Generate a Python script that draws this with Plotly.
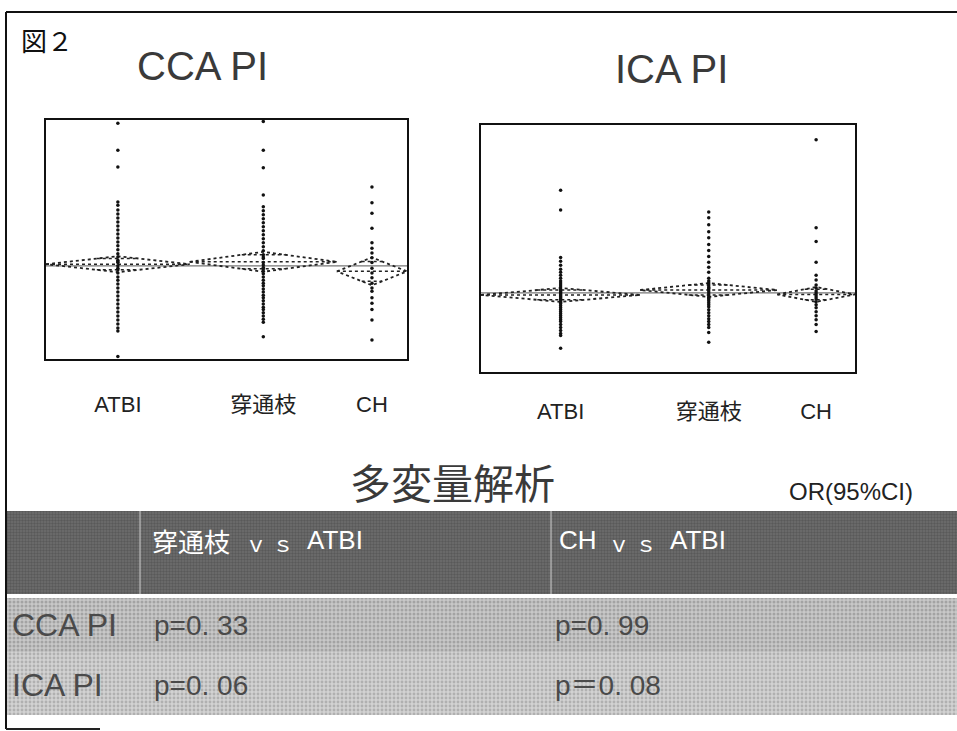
import math
import plotly.graph_objects as go

W, H = 957, 731

# ---------------- data ----------------
groups = ["ATBI", "穿通枝", "CH"]

# CCA pulsatility index per patient
cca_atbi = [3.46, 3.12, 2.91, 2.47, 2.43, 2.37, 2.32, 2.27, 2.22, 2.17, 2.12, 2.07, 2.02, 1.97,
            1.92, 1.87, 1.82, 1.78, 1.74, 1.72, 1.71, 1.67, 1.64, 1.62, 1.58, 1.53, 1.49, 1.44,
            1.39, 1.34, 1.29, 1.24, 1.19, 1.14, 1.09, 1.04, 0.99, 0.94, 0.89, 0.85, 0.53]
cca_perf = [3.48, 3.12, 2.90, 2.56, 2.41, 2.36, 2.31, 2.26, 2.21, 2.16, 2.11, 2.06, 2.01, 1.96,
            1.91, 1.86, 1.81, 1.78, 1.76, 1.71, 1.68, 1.65, 1.63, 1.60, 1.57, 1.53, 1.49, 1.45,
            1.42, 1.38, 1.34, 1.30, 1.27, 1.23, 1.19, 1.15, 1.12, 1.08, 1.04, 1.00, 0.96, 0.78]
cca_ch = [2.66, 2.46, 2.33, 2.14, 1.96, 1.89, 1.83, 1.77, 1.71, 1.64, 1.58, 1.52, 1.45, 1.39,
          1.35, 1.27, 1.20, 1.12, 0.99, 0.74]
cca_means = [1.69, 1.72, 1.60]
cca_ci = [0.10, 0.125, 0.175]
cca_grand = 1.67

# ICA pulsatility index per patient
ica_atbi = [2.14, 1.94, 1.46, 1.42, 1.38, 1.34, 1.31, 1.28, 1.25, 1.22, 1.20, 1.18, 1.16, 1.14,
            1.13, 1.12, 1.11, 1.10, 1.09, 1.08, 1.07, 1.06, 1.05, 1.04, 1.03, 1.01, 1.00, 0.99,
            0.97, 0.95, 0.93, 0.91, 0.89, 0.87, 0.85, 0.83, 0.81, 0.78, 0.75, 0.72, 0.69, 0.67, 0.54]
ica_perf = [1.92, 1.86, 1.79, 1.72, 1.66, 1.59, 1.53, 1.47, 1.41, 1.36, 1.31, 1.25, 1.22, 1.20,
            1.18, 1.16, 1.15, 1.14, 1.12, 1.10, 1.08, 1.06, 1.05, 1.04, 1.02, 1.00, 0.98, 0.96,
            0.93, 0.90, 0.87, 0.84, 0.81, 0.78, 0.75, 0.70, 0.60]
ica_ch = [2.65, 1.76, 1.62, 1.41, 1.28, 1.23, 1.18, 1.15, 1.12, 1.10, 1.08, 1.06, 1.04, 1.01,
          0.98, 0.95, 0.91, 0.87, 0.83, 0.78, 0.71]
ica_means = [1.08, 1.13, 1.085]
ica_ci = [0.07, 0.07, 0.075]
ica_grand = 1.10

# multivariate table
col_headers = [("穿通枝", "ｖ ｓ", "ATBI"), ("CH", "ｖ ｓ", "ATBI")]
row_labels = ["CCA PI", "ICA PI"]
p_values = [["p=0. 33", "p=0. 99"], ["p=0. 06", "p＝0. 08"]]

# ---------------- helpers ----------------
def px_x(v):
    return v / W


def px_y(v):
    return 1 - v / H


SANS = "Liberation Sans, Arial, Noto Sans CJK JP, sans-serif"
CJK = "Noto Sans CJK JP, sans-serif"

fig = go.Figure()


def oneway(fig, series, means, ci, grand, xa, ya):
    """JMP-style one-way plot: points per group, means diamonds, grand mean."""
    counts = [len(s) for s in series]
    total = sum(counts)
    starts = [sum(counts[:i]) for i in range(len(counts))]
    centers = [s + n / 2 for s, n in zip(starts, counts)]

    # grand mean line
    fig.add_trace(go.Scatter(x=[0, total], y=[grand, grand], mode="lines",
                             line=dict(color="#777", width=1.2),
                             xaxis=xa, yaxis=ya, hoverinfo="skip"))
    for s, n, c, m, h in zip(starts, counts, centers, means, ci):
        e = s + n
        # diamond
        fig.add_trace(go.Scatter(x=[s, c, e, c, s], y=[m, m + h, m, m - h, m], mode="lines",
                                 line=dict(color="#222", width=1.8, dash="dot"),
                                 xaxis=xa, yaxis=ya, hoverinfo="skip"))
        # mean line
        fig.add_trace(go.Scatter(x=[s, e], y=[m, m], mode="lines",
                                 line=dict(color="#222", width=1.5, dash="dot"),
                                 xaxis=xa, yaxis=ya, hoverinfo="skip"))
        # overlap marks
        d = h / math.sqrt(2)
        half = (1 - d / h) * n / 2
        for yy in (m + d, m - d):
            fig.add_trace(go.Scatter(x=[c - half, c + half], y=[yy, yy], mode="lines",
                                     line=dict(color="#222", width=1.5, dash="dot"),
                                     xaxis=xa, yaxis=ya, hoverinfo="skip"))
    for c, vals in zip(centers, series):
        fig.add_trace(go.Scatter(x=[c] * len(vals), y=vals, mode="markers",
                                 marker=dict(color="#111", size=3.5),
                                 xaxis=xa, yaxis=ya, hoverinfo="skip"))
    return total, centers


tot1, cen1 = oneway(fig, [cca_atbi, cca_perf, cca_ch], cca_means, cca_ci, cca_grand, "x", "y")
tot2, cen2 = oneway(fig, [ica_atbi, ica_perf, ica_ch], ica_means, ica_ci, ica_grand, "x2", "y2")

# ---------------- table backgrounds (page pixel axes) ----------------
def cell(x0, y0, x1, y1, bg, fg, size, solidity):
    fig.add_trace(go.Scatter(x=[x0, x1, x1, x0, x0], y=[y0, y0, y1, y1, y0],
                             mode="lines", line=dict(width=0), fill="toself",
                             fillcolor=bg,
                             fillpattern=dict(shape=".", bgcolor=bg, fgcolor=fg,
                                              size=size, solidity=solidity),
                             xaxis="x3", yaxis="y3", hoverinfo="skip"))


cell(5, 511, W, 594, "#6e6e6e", "#444444", 3, 0.5)
cell(5, 598, W, 652, "#c8c8c8", "#7d7d7d", 4, 0.45)
cell(5, 652, W, 715, "#d2d2d2", "#8e8e8e", 4, 0.4)

axis_common = dict(showline=True, mirror=True, linecolor="#111", linewidth=1.5,
                   showgrid=False, zeroline=False, ticks="")

fig.update_layout(
    width=W, height=H, margin=dict(l=0, r=0, t=0, b=0),
    paper_bgcolor="white", plot_bgcolor="rgba(0,0,0,0)", showlegend=False,
    xaxis=dict(domain=[px_x(46), px_x(407)], range=[0, tot1], anchor="y",
               tickvals=cen1, ticktext=groups,
               tickfont=dict(family=SANS, size=22, color="#222"), ticklabelstandoff=25,
               **axis_common),
    yaxis=dict(domain=[px_y(359), px_y(120)], range=[0.5, 3.5], anchor="x",
               showticklabels=False, **axis_common),
    xaxis2=dict(domain=[px_x(481), px_x(855)], range=[0, tot2], anchor="y2",
                tickvals=cen2, ticktext=groups,
                tickfont=dict(family=SANS, size=22, color="#222"), ticklabelstandoff=19,
                **axis_common),
    yaxis2=dict(domain=[px_y(372), px_y(125)], range=[0.3, 2.8], anchor="x2",
                showticklabels=False, **axis_common),
    xaxis3=dict(domain=[0, 1], range=[0, W], anchor="y3", visible=False, fixedrange=True),
    yaxis3=dict(domain=[0, 1], range=[H, 0], anchor="x3", visible=False, fixedrange=True),
)

shapes = []
# page frame
shapes.append(dict(type="line", xref="x3", yref="y3", x0=6, y0=12, x1=W, y1=12,
                   line=dict(color="#111", width=2)))
shapes.append(dict(type="line", xref="x3", yref="y3", x0=6, y0=12, x1=6, y1=729,
                   line=dict(color="#111", width=2)))
shapes.append(dict(type="line", xref="x3", yref="y3", x0=6, y0=729, x1=100, y1=729,
                   line=dict(color="#222", width=2)))
# header cell dividers
for xv in (140, 551):
    shapes.append(dict(type="line", xref="x3", yref="y3", x0=xv, y0=511, x1=xv, y1=594,
                       line=dict(color="#cfcfcf", width=1)))
fig.update_layout(shapes=shapes)

ann = []


def text(x, y, s, size, family, color="#111", xanchor="left"):
    ann.append(dict(x=x, y=y, xref="x3", yref="y3", text=s, showarrow=False,
                    xanchor=xanchor, yanchor="middle",
                    font=dict(size=size, family=family, color=color)))


text(19, 39, "図２", 26, CJK)
text(202, 66, "CCA PI", 40, SANS, "#3a3a3a", "center")
text(671, 69, "ICA PI", 40, SANS, "#3a3a3a", "center")
text(452, 481, "多変量解析", 41, CJK, "#3a3a3a", "center")
text(787, 491, "OR(95%CI)", 24, SANS, "#222")

# header texts
hx = [(150, 243, 305), (557, 606, 668)]
for (a, b, c), (xa, xb, xc) in zip(col_headers, hx):
    text(xa, 540, a, 26, CJK if a == "穿通枝" else SANS, "white")
    text(xb, 542, b, 22, CJK, "white")
    text(xc, 540, c, 26, SANS, "white")

# body rows
row_y = [625, 685]
for r, lab in enumerate(row_labels):
    text(10, row_y[r], lab, 32, SANS, "#4a4a4a")
    text(152, row_y[r], p_values[r][0], 28, SANS, "#4a4a4a")
    text(553, row_y[r], p_values[r][1], 28, SANS, "#4a4a4a")

fig.update_layout(annotations=ann)

fig.write_html("out.html")
